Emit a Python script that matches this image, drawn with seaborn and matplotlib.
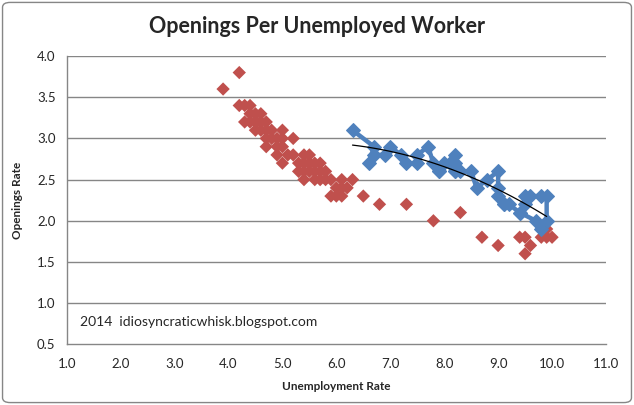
import numpy as np
import pandas as pd
import matplotlib
matplotlib.use("Agg")
import matplotlib.pyplot as plt
import seaborn as sns
from matplotlib.patches import FancyBboxPatch

# red series: earlier years (unemployment rate, openings rate)
red_u = [3.9, 4.2,
         4.2, 4.3, 4.4,
         4.4, 4.5, 4.6,
         4.3, 4.4, 4.5, 4.6, 4.7,
         4.5, 4.6, 4.7, 4.8, 5.0,
         4.7, 4.8, 4.9, 5.0, 5.2,
         4.7, 4.9, 5.0,
         4.9, 5.1, 5.2, 5.4, 5.5,
         5.0, 5.3, 5.4, 5.5, 5.6, 5.7,
         5.3, 5.4, 5.5, 5.6, 5.7, 5.8,
         5.4, 5.6, 5.7, 5.8, 5.9, 6.1, 6.3,
         6.0, 6.1, 6.2,
         5.9, 6.0, 6.1, 6.5,
         6.8, 7.3, 8.3, 7.8, 9.9,
         8.7, 9.4, 9.5, 9.8, 9.9, 10.0,
         9.0, 9.6, 9.5]
red_o = [3.6, 3.8,
         3.4, 3.4, 3.4,
         3.3, 3.3, 3.3,
         3.2, 3.2, 3.2, 3.2, 3.2,
         3.1, 3.1, 3.1, 3.1, 3.1,
         3.0, 3.0, 3.0, 3.0, 3.0,
         2.9, 2.9, 2.9,
         2.8, 2.8, 2.8, 2.8, 2.8,
         2.7, 2.7, 2.7, 2.7, 2.7, 2.7,
         2.6, 2.6, 2.6, 2.6, 2.6, 2.6,
         2.5, 2.5, 2.5, 2.5, 2.5, 2.5, 2.5,
         2.4, 2.4, 2.4,
         2.3, 2.3, 2.3, 2.3,
         2.2, 2.2, 2.1, 2.0, 1.9,
         1.8, 1.8, 1.8, 1.8, 1.8, 1.8,
         1.7, 1.7, 1.6]

# blue series: recent months, in time order
blue_u = [9.4, 9.7, 9.8, 9.9, 9.9, 9.8, 9.6, 9.5, 9.5, 9.4, 9.2, 9.1,
          9.0, 9.1, 9.0, 9.0, 8.8, 8.6, 8.5, 8.3, 8.2, 8.2, 8.2, 8.1,
          8.2, 8.0, 7.9, 7.9, 7.8, 7.7, 7.5, 7.5, 7.3, 7.2, 7.0, 6.9,
          6.7, 6.6, 6.7, 6.3]
blue_o = [2.1, 2.0, 1.9, 2.0, 2.3, 2.3, 2.3, 2.3, 2.2, 2.1, 2.2, 2.2,
          2.3, 2.2, 2.4, 2.6, 2.5, 2.4, 2.6, 2.6, 2.6, 2.7, 2.8, 2.7,
          2.6, 2.7, 2.6, 2.6, 2.7, 2.9, 2.8, 2.7, 2.7, 2.8, 2.9, 2.8,
          2.8, 2.7, 2.9, 3.1]

x_ticks = np.arange(1.0, 11.01, 1.0)
y_ticks = np.arange(0.5, 4.01, 0.5)

red_df = pd.DataFrame({"u": red_u, "o": red_o})
blue_df = pd.DataFrame({"u": blue_u, "o": blue_o})

sns.set_style("white")
plt.rcParams["font.family"] = ["Lato", "DejaVu Sans"]

fig = plt.figure(figsize=(6.34, 4.05), dpi=100)
ax = fig.add_axes([0.1052, 0.1499, 0.8506, 0.7116])

grid_c = "#868686"
for yv in y_ticks[1:]:
    ax.axhline(yv, color=grid_c, linewidth=1, zorder=0)

sns.scatterplot(data=red_df, x="u", y="o", marker="D", s=46,
                color="#C0504D", edgecolor="none", ax=ax, zorder=3)
sns.lineplot(data=blue_df, x="u", y="o", sort=False, estimator=None,
             color="#4F81BD", linewidth=3.2, marker="D", markersize=7.5,
             markeredgecolor="#4F81BD", ax=ax, zorder=4)
sns.regplot(data=blue_df, x="u", y="o", order=2, scatter=False, ci=None,
            truncate=True, line_kws={"color": "black", "linewidth": 0.9},
            ax=ax)
ax.lines[-1].set_zorder(5)

ax.set_xlim(1.0, 11.0)
ax.set_ylim(0.5, 4.0)
ax.set_xticks(x_ticks)
ax.set_yticks(y_ticks)
ax.set_xticklabels([f"{v:.1f}" for v in x_ticks], fontsize=9.5)
ax.set_yticklabels([f"{v:.1f}" for v in y_ticks], fontsize=9.5)
ax.tick_params(axis="both", direction="out", length=4, color=grid_c,
               width=1, pad=4)
ax.tick_params(axis="x", pad=6)

for side in ["top", "right"]:
    ax.spines[side].set_visible(False)
for side in ["left", "bottom"]:
    ax.spines[side].set_color(grid_c)
    ax.spines[side].set_linewidth(1)

ax.set_xlabel("Unemployment Rate", fontsize=8.5, fontweight="bold", labelpad=8)
ax.set_ylabel("Openings Rate", fontsize=8.5, fontweight="bold", labelpad=10)

fig.text(0.5, 0.935, "Openings Per Unemployed Worker", ha="center",
         va="center", fontsize=15.5, fontweight="bold")
ax.text(1.25, 0.72, "2014  idiosyncraticwhisk.blogspot.com", fontsize=10)

border = FancyBboxPatch((0.004, 0.006), 0.992, 0.988,
                        boxstyle="round,pad=0,rounding_size=0.012",
                        transform=fig.transFigure, facecolor="none",
                        edgecolor="#868686", linewidth=1)
fig.patches.append(border)

fig.savefig("out.png", dpi=100)
